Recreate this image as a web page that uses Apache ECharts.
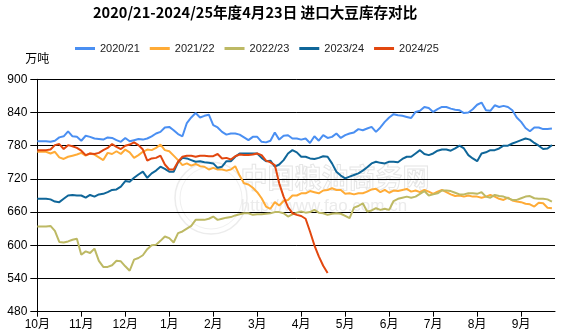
<!DOCTYPE html>
<html>
<head>
<meta charset="utf-8">
<script src="https://cdn.jsdelivr.net/npm/echarts@6/dist/echarts.min.js"></script>
<style>
  html, body { margin: 0; padding: 0; background: #fff; }
  #chart { width: 561px; height: 334px; }
</style>
</head>
<body>
<div id="chart"></div>
<script>
// Imported soybean stocks (万吨), season running October to September.
const titleText = '2020/21-2024/25年度4月23日 进口大豆库存对比';
const unitName = '万吨';
const monthLabels = ['10月', '11月', '12月', '1月', '2月', '3月', '4月', '5月', '6月', '7月', '8月', '9月'];
const seasonNames = ['2020/21', '2021/22', '2022/23', '2023/24', '2024/25'];
const yTicks = [480, 540, 600, 660, 720, 780, 840, 900];

// one reading every tenth of a month, starting 1 October
const sampleStep = 0.1;

const stock2020 = [
  788, 788, 788, 787, 789, 795, 797, 806, 797, 796,
  789, 798, 796, 793, 792, 791, 795, 794, 790, 787,
  794, 788, 790, 792, 791, 793, 797, 802, 805, 813,
  814, 808, 801, 797, 821, 831, 839, 831, 834, 836,
  817, 813, 805, 800, 802, 802, 800, 795, 790, 796,
  796, 787, 786, 789, 804, 791, 798, 799, 793, 793,
  791, 793, 785, 797, 789, 799, 794, 796, 802, 794,
  799, 802, 804, 810, 808, 811, 814, 805, 813, 823,
  831, 837, 835, 834, 832, 830, 841, 843, 850, 848,
  841, 846, 850, 850, 847, 845, 844, 839, 840, 846,
  854, 858, 844, 843, 853, 850, 852, 850, 844, 831,
  823, 812, 806, 813, 813, 810, 810, 811
];

const stock2021 = [
  769, 769, 769, 766, 769, 759, 756, 760, 762, 764,
  767, 762, 766, 764, 759, 754, 767, 765, 770, 765,
  773, 768, 758, 763, 769, 773, 772, 776, 782, 772,
  770, 762, 754, 745, 748, 744, 747, 743, 742, 737,
  740, 737, 737, 735, 737, 743, 726, 712, 710, 704,
  696, 685, 670, 666, 678, 672, 680, 682, 690, 690,
  694, 694, 698, 696, 694, 699, 700, 703, 700, 700,
  693, 694, 692, 694, 694, 697, 701, 702, 696, 700,
  695, 699, 698, 700, 702, 697, 699, 696, 700, 697,
  693, 697, 700, 696, 692, 689, 690, 688, 690, 688,
  688, 686, 688, 691, 688, 684, 682, 686, 681, 679,
  678, 675, 674, 670, 677, 676, 668, 667
];

const stock2022 = [
  634, 634, 634, 635, 626, 606, 605, 607, 610, 612,
  583, 589, 586, 594, 572, 561, 561, 564, 572, 571,
  562, 554, 574, 577, 582, 593, 600, 601, 608, 616,
  613, 605, 622, 625, 630, 635, 646, 646, 646, 648,
  652, 646, 648, 650, 651, 654, 656, 658, 658, 655,
  656, 656, 657, 658, 660, 660, 658, 652, 656, 659,
  661, 659, 660, 664, 659, 658, 655, 657, 658, 657,
  653, 649, 668, 671, 676, 661, 663, 667, 664, 666,
  664, 680, 684, 686, 688, 686, 688, 693, 698, 690,
  692, 694, 699, 699, 698, 695, 692, 692, 694, 694,
  693, 696, 688, 686, 691, 689, 688, 685, 682, 682,
  685, 688, 689, 685, 684, 684, 683, 679
];

const stock2023 = [
  684, 684, 684, 683, 679, 678, 684, 690, 691, 690,
  690, 686, 691, 688, 692, 693, 696, 700, 701, 706,
  716, 715, 722, 728, 733, 722, 730, 735, 742, 738,
  733, 733, 750, 758, 757, 754, 751, 752, 750, 749,
  748, 740, 742, 752, 752, 760, 766, 766, 766, 766,
  766, 758, 752, 753, 742, 746, 754, 766, 772, 768,
  760, 760, 757, 756, 758, 761, 760, 748, 733, 726,
  721, 724, 727, 730, 735, 741, 748, 751, 749, 748,
  751, 751, 750, 756, 760, 760, 766, 772, 765, 763,
  766, 771, 773, 773, 771, 775, 780, 775, 763, 757,
  752, 766, 768, 772, 772, 775, 780, 780, 784, 787,
  790, 793, 791, 785, 780, 774, 775, 781
];

const stock2024 = [
  772, 772, 772, 773, 781, 783, 774, 781, 779, 776,
  771, 763, 766, 765, 767, 772, 776, 783, 778, 774,
  780, 782, 786, 781, 773, 753, 757, 758, 762, 746,
  737, 737, 751, 760, 762, 762, 760, 762, 762, 761,
  761, 765, 757, 758, 755, 761, 764, 763, 763, 764,
  766, 763, 753, 750, 745, 712, 688, 669, 658, 655,
  653, 648, 625, 600, 580, 563, 550
];

const seasonColors = ['#4a8ff2', '#ffab36', '#bdb964', '#0f6699', '#e2470f'];
const seasonValues = [stock2020, stock2021, stock2022, stock2023, stock2024];

const chart = echarts.init(document.getElementById('chart'), null, { renderer: 'canvas' });

const series = seasonNames.map((name, k) => ({
  name: name,
  type: 'line',
  symbol: 'none',
  smooth: false,
  z: 3 + k,
  lineStyle: { color: seasonColors[k], width: 2 },
  itemStyle: { color: seasonColors[k] },
  data: seasonValues[k].map((v, i) => [i * sampleStep, v])
}));

const monthTicks = monthLabels.map((_, i) => i);

chart.setOption({
  animation: false,
  backgroundColor: '#fff',
  graphic: {
    elements: [
      {
        type: 'text', left: 93, top: 5, z: 10,
        style: {
          text: titleText,
          font: 'bold 14.6px "Noto Sans CJK SC", sans-serif',
          fill: '#000'
        }
      },
      // faint site mark behind the lines
      { type: 'circle', shape: { cx: 211, cy: 198, r: 36 }, z: 0,
        style: { fill: 'none', stroke: '#ececec', lineWidth: 1.5 } },
      { type: 'circle', shape: { cx: 211, cy: 198, r: 31 }, z: 0,
        style: { fill: 'none', stroke: '#f0f0f0', lineWidth: 1 } },
      { type: 'text', x: 335, y: 178, z: 0,
        style: { text: '中国粮油商务网', font: 'bold 27px "Noto Sans CJK SC", sans-serif',
          fill: 'rgba(255,255,255,0)', stroke: '#e6e6e6', lineWidth: 1,
          textAlign: 'center', textVerticalAlign: 'middle' } },
      { type: 'text', x: 324, y: 206, z: 0,
        style: { text: 'http://www.fao.com.cn', font: '17px "Liberation Sans", Arial, sans-serif',
          fill: '#ebebeb', textAlign: 'center', textVerticalAlign: 'middle' } }
    ]
  },
  legend: {
    data: seasonNames,
    left: 70,
    top: 38,
    icon: 'rect',
    itemWidth: 20,
    itemHeight: 3,
    itemGap: 10,
    textStyle: { fontSize: 11, color: '#222', fontFamily: '"Liberation Sans", Arial, sans-serif' }
  },
  grid: { left: 37.3, right: 6, top: 79.3, bottom: 22.3, containLabel: false },
  xAxis: {
    type: 'value',
    min: 0,
    max: 11.77,
    splitLine: { show: false },
    axisLine: { show: true, lineStyle: { color: '#000', width: 1 } },
    axisTick: { show: true, customValues: monthTicks, length: 5, lineStyle: { color: '#000' } },
    axisLabel: {
      customValues: monthTicks,
      formatter: v => monthLabels[Math.round(v)] || '',
      color: '#000', fontSize: 12, margin: 7,
      fontFamily: '"Liberation Sans", Arial, "Noto Sans CJK SC", sans-serif'
    }
  },
  yAxis: {
    type: 'value',
    min: yTicks[0],
    max: yTicks[yTicks.length - 1],
    interval: 60,
    name: unitName,
    nameGap: 15,
    nameTextStyle: { color: '#000', fontSize: 12, fontFamily: '"Noto Sans CJK SC", sans-serif' },
    axisLine: { show: true, lineStyle: { color: '#000', width: 1 } },
    axisTick: { show: true, length: 7, lineStyle: { color: '#000' } },
    axisLabel: { color: '#000', fontSize: 12, margin: 10,
      fontFamily: '"Liberation Sans", Arial, sans-serif' },
    splitLine: { show: true, lineStyle: { color: '#000', width: 1 } }
  },
  series: series
});
</script>
</body>
</html>
